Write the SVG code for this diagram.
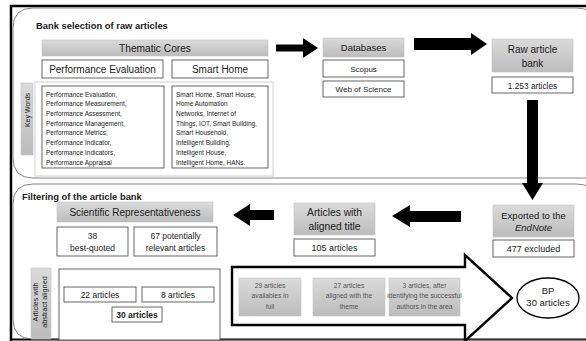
<svg xmlns="http://www.w3.org/2000/svg" width="586" height="341" viewBox="0 0 586 341">
<defs>
<linearGradient id="g" x1="0" y1="0" x2="0" y2="1">
<stop offset="0" stop-color="#dadada"/>
<stop offset="1" stop-color="#bcbcbc"/>
</linearGradient>
</defs>
<style>
text{font-family:"Liberation Sans",Arial,sans-serif;fill:#1a1a1a}
.gray{fill:url(#g);stroke:#c4c4c4;stroke-width:0.6}
.box{fill:#fff;stroke:#555;stroke-width:0.9}
.panel{fill:none;stroke:#777;stroke-width:0.9}
.title{font-weight:bold;font-size:9.4px}
.c{text-anchor:middle}
.kw{font-size:6.5px}
.arrow{fill:#000}
.sm{font-size:6.7px;fill:#555}
</style>
<rect width="586" height="341" fill="#fff"/>
<!-- outer frame -->
<path d="M11,341 V6 H586" fill="none" stroke="#000" stroke-width="2.5"/>
<path d="M10,339.5 H586" fill="none" stroke="#000" stroke-width="2"/>

<!-- panels -->
<g id="panel-top">
<path class="panel" d="M600,178 H33 Q13,178 13,158 V28 Q13,8 33,8 H576 Q592,8 600,20"/>
<text class="title" x="36" y="29">Bank selection of raw articles</text>
</g>
<g id="panel-bottom">
<path class="panel" d="M600,339 H33 Q13,339 13,319 V204 Q13,184 33,184 H576 Q592,184 600,196"/>
<text class="title" x="22" y="200">Filtering of the article bank</text>
</g>

<!-- nodes top -->
<g id="thematic-cores">
<rect class="gray" x="42" y="40" width="226" height="16"/>
<text class="c" x="155" y="52" font-size="10.2">Thematic Cores</text>
</g>
<g id="performance-evaluation">
<rect class="box" x="42" y="60" width="121" height="18"/>
<text class="c" x="102.5" y="73" font-size="10">Performance Evaluation</text>
</g>
<g id="smart-home">
<rect class="box" x="172" y="60" width="96" height="18"/>
<text class="c" x="220" y="73" font-size="10">Smart Home</text>
</g>
<g id="key-words">
<rect x="35" y="82" width="238" height="94" fill="#fff" stroke="#d0d0d0" stroke-width="1"/>
<rect class="gray" x="21" y="83" width="12" height="72"/>
<text class="c" transform="translate(29.5,110) rotate(-90)" font-size="7">Key Words</text>
</g>
<g id="kw-performance">
<rect class="box" x="42" y="86" width="122" height="82"/>
<text class="kw" x="46" y="96.6">Performance Evaluation,</text>
<text class="kw" x="46" y="106.3">Performance Measurement,</text>
<text class="kw" x="46" y="116">Performance Assessment,</text>
<text class="kw" x="46" y="125.7">Performance Management,</text>
<text class="kw" x="46" y="135.4">Performance Metrics,</text>
<text class="kw" x="46" y="145.1">Performance Indicator,</text>
<text class="kw" x="46" y="154.8">Performance Indicators,</text>
<text class="kw" x="46" y="164.5">Performance Appraisal</text>
</g>
<g id="kw-smarthome">
<rect class="box" x="172" y="86" width="96" height="82"/>
<text class="kw" x="176" y="96.6">Smart Home, Smart House,</text>
<text class="kw" x="176" y="106.3">Home Automation</text>
<text class="kw" x="176" y="116">Networks, Internet of</text>
<text class="kw" x="176" y="125.7">Things, IOT, Smart Building,</text>
<text class="kw" x="176" y="135.4">Smart Household,</text>
<text class="kw" x="176" y="145.1">Intelligent Building,</text>
<text class="kw" x="176" y="154.8">Intelligent House,</text>
<text class="kw" x="176" y="164.5">Intelligent Home, HANs.</text>
</g>
<g id="databases">
<rect class="gray" x="323" y="38" width="81" height="19"/>
<text class="c" x="363.5" y="51" font-size="9.5">Databases</text>
</g>
<g id="scopus">
<rect class="box" x="323" y="60" width="81" height="17"/>
<text class="c" x="363.5" y="71.5" font-size="8">Scopus</text>
</g>
<g id="web-of-science">
<rect class="box" x="323" y="81" width="81" height="16"/>
<text class="c" x="363.5" y="92" font-size="8">Web of Science</text>
</g>
<g id="raw-article-bank">
<rect class="gray" x="492" y="39" width="81" height="33"/>
<text class="c" x="532.5" y="52.5" font-size="10">Raw article</text>
<text class="c" x="532.5" y="66.5" font-size="10">bank</text>
</g>
<g id="raw-count">
<rect class="box" x="492" y="77" width="81" height="16"/>
<text class="c" x="532.5" y="88.5" font-size="8.3">1.253 articles</text>
</g>

<!-- nodes bottom -->
<g id="exported-endnote">
<rect class="gray" x="493" y="205" width="81" height="32"/>
<text class="c" x="533.5" y="218.5" font-size="9.5">Exported to the</text>
<text class="c" x="533.5" y="231" font-size="9.5" font-style="italic">EndNote</text>
</g>
<g id="excluded">
<rect class="box" x="493" y="240" width="81" height="17"/>
<text class="c" x="533.5" y="252" font-size="9">477 excluded</text>
</g>
<g id="aligned-title">
<rect class="gray" x="294" y="203" width="81" height="32"/>
<text class="c" x="334.5" y="216" font-size="10.3">Articles with</text>
<text class="c" x="334.5" y="229.5" font-size="10.3">aligned title</text>
</g>
<g id="title-count">
<rect class="box" x="294" y="239" width="81" height="17"/>
<text class="c" x="334.5" y="251" font-size="9">105 articles</text>
</g>
<g id="scientific-representativeness">
<rect class="gray" x="57" y="202" width="156" height="20"/>
<text class="c" x="135" y="215.5" font-size="10">Scientific Representativeness</text>
</g>
<g id="best-quoted">
<rect class="box" x="57" y="227" width="71" height="29"/>
<text class="c" x="92.5" y="239" font-size="8.5">38</text>
<text class="c" x="92.5" y="251" font-size="8.5">best-quoted</text>
</g>
<g id="potentially-relevant">
<rect class="box" x="134" y="227" width="83" height="29"/>
<text class="c" x="175.5" y="239" font-size="8.5">67 potentially</text>
<text class="c" x="175.5" y="251" font-size="8.5">relevant articles</text>
</g>
<g id="abstract-aligned">
<rect class="gray" x="31" y="268" width="20" height="71"/>
<text class="c" transform="translate(38,302) rotate(-90)" font-size="7.3">Articles with</text>
<text class="c" transform="translate(46.5,302) rotate(-90)" font-size="7.3">abstract aligned</text>
<rect class="box" x="59" y="269" width="161" height="71"/>
</g>
<g id="a22">
<rect class="box" x="64" y="287" width="72" height="15"/>
<text class="c" x="100" y="297.8" font-size="8.5">22 articles</text>
</g>
<g id="a8">
<rect class="box" x="142" y="287" width="72" height="15"/>
<text class="c" x="178" y="297.8" font-size="8.5">8 articles</text>
</g>
<g id="a30">
<rect class="box" x="112" y="307" width="50" height="15" stroke-width="1.2"/>
<text class="c" x="137" y="318" font-size="8.5" font-weight="bold">30 articles</text>
</g>
<g id="big-arrow">
<polygon points="232,267 465,267 465,255 512,298 465,341 465,325 232,325" fill="#fff" stroke="#000" stroke-width="2.4"/>
<rect class="gray" x="239" y="278" width="62" height="38"/>
<text class="c sm" x="270" y="287.5">29 articles</text>
<text class="c sm" x="270" y="298">availables in</text>
<text class="c sm" x="270" y="309">full</text>
<rect class="gray" x="313" y="278" width="72" height="38"/>
<text class="c sm" x="349" y="287.5">27 articles</text>
<text class="c sm" x="349" y="298">aligned with the</text>
<text class="c sm" x="349" y="309">theme</text>
<rect class="gray" x="389" y="278" width="71" height="38"/>
<text class="c sm" x="424.5" y="287.5">3 articles, after</text>
<text class="c sm" x="424.5" y="298" font-size="6.3">identifying the successful</text>
<text class="c sm" x="424.5" y="309">authors in the area</text>
</g>
<g id="bp">
<ellipse cx="548" cy="298" rx="31" ry="20" fill="#fff" stroke="#000" stroke-width="1.3"/>
<text class="c" x="548" y="293.5" font-size="9.5">BP</text>
<text class="c" x="548" y="306" font-size="9.5">30 articles</text>
</g>

<!-- connectors -->
<g id="connectors">
<polygon class="arrow" points="276,44.5 303,44.5 303,38 318,48 303,58 303,51.5 276,51.5"/>
<polygon class="arrow" points="414,38 471,38 471,33 487,44 471,55 471,50 414,50"/>
<polygon class="arrow" points="527,100 538,100 538,183 543,183 532.5,200 522,183 527,183"/>
<polygon class="arrow" points="461,211 410,211 410,205 392,216 410,227 410,222 461,222"/>
<polygon class="arrow" points="274,210 250,210 250,204 233,215 250,226 250,220 274,220"/>
</g>
</svg>
